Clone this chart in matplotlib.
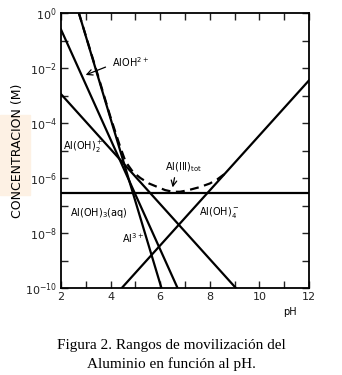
import numpy as np
import matplotlib
matplotlib.use("Agg")
import matplotlib.pyplot as plt
from matplotlib.patches import Rectangle

# endpoints of each species line (pH, log10 C)
al3_ph = [2.72, 6.05]
al3_log = [0.0, -10.0]
aloh_ph = [2.0, 6.7]
aloh_log = [-0.6, -10.0]
aloh2_ph = [2.0, 9.05]
aloh2_log = [-2.95, -10.0]
aloh3_ph = [2.0, 12.0]
aloh3_log = [-6.55, -6.55]
aloh4_ph = [4.45, 12.0]
aloh4_log = [-10.0, -2.45]

# total Al(III), dashed curve
tot_ph = [2.72, 3.5, 4.0, 4.38, 4.6, 4.9, 5.2, 5.55, 5.9, 6.2, 6.5, 6.8, 7.1,
          7.6, 8.0, 8.3, 8.6]
tot_log = [0.0, -2.3, -3.8, -4.85, -5.4, -5.78, -6.0, -6.2, -6.33, -6.44, -6.5,
           -6.5, -6.45, -6.33, -6.2, -6.05, -5.85]

xticks = [2, 3, 4, 5, 6, 7, 8, 9, 10, 11, 12]
xlabels = ['2', '', '4', '', '6', '', '8', '', '10', '', '12']
yexp = list(range(-10, 1))

plt.rcParams['mathtext.fontset'] = 'dejavusans'

fig = plt.figure(figsize=(3.42, 3.75), dpi=100)
fig.patches.append(Rectangle((0, 1 - 195 / 375), 30 / 342, 80 / 375,
                             transform=fig.transFigure, color='#fdf1e4',
                             zorder=0))
ax = fig.add_axes([61 / 342, 1 - 288 / 375, 248 / 342, 275 / 375])

lw = 1.6
ax.plot(al3_ph, 10 ** np.array(al3_log), 'k', lw=lw)
ax.plot(aloh_ph, 10 ** np.array(aloh_log), 'k', lw=lw)
ax.plot(aloh2_ph, 10 ** np.array(aloh2_log), 'k', lw=lw)
ax.plot(aloh3_ph, 10 ** np.array(aloh3_log), 'k', lw=lw)
ax.plot(aloh4_ph, 10 ** np.array(aloh4_log), 'k', lw=lw)
ax.plot(tot_ph, 10 ** np.array(tot_log), 'k', lw=1.6, dashes=(4, 2.5))

ax.set_yscale('log')
ax.set_xlim(2, 12)
ax.set_ylim(1e-10, 1)
ax.set_xticks(xticks)
ax.set_xticklabels(xlabels)
ax.set_yticks([10.0 ** e for e in yexp])
ax.set_yticklabels([r'$10^{%d}$' % e if e % 2 == 0 else '' for e in yexp])
ax.minorticks_off()
ax.tick_params(direction='in', top=True, right=True, length=5, width=1,
               labelsize=8, colors='#222222', pad=3)
for s in ax.spines.values():
    s.set_linewidth(1.3)

fs = 7
ax.text(4.06, 10 ** -1.78, r'AlOH$^{2+}$', fontsize=fs, va='center')
ax.annotate('', xy=(2.89, 10 ** -2.29), xytext=(3.9, 10 ** -1.93),
            arrowprops=dict(arrowstyle='->', lw=0.9, color='k'))
ax.text(2.08, 10 ** -4.87, r'Al(OH)$_2^+$', fontsize=fs, va='center')
ax.text(6.2, 10 ** -5.6, r'Al(III)$_{\rm tot}$', fontsize=fs, va='center')
ax.annotate('', xy=(6.48, 10 ** -6.44), xytext=(6.6, 10 ** -5.89),
            arrowprops=dict(arrowstyle='->', lw=0.9, color='k'))
ax.text(2.36, 10 ** -7.27, r'Al(OH)$_3$(aq)', fontsize=fs, va='center')
ax.text(4.46, 10 ** -8.18, r'Al$^{3+}$', fontsize=fs, va='center')
ax.text(7.56, 10 ** -7.27, r'Al(OH)$_4^-$', fontsize=fs, va='center')

fig.text(290 / 342, 1 - 312 / 375, 'pH', fontsize=7, ha='center', va='center')
fig.text(18 / 342, 1 - 151 / 375, 'CONCENTRACION (M)', fontsize=9,
         rotation=90, ha='center', va='center')

fig.text(0.5, 1 - 345 / 375, 'Figura 2. Rangos de movilización del',
         family='Liberation Serif', fontsize=11, ha='center', va='center')
fig.text(0.5, 1 - 364 / 375, 'Aluminio en función al pH.',
         family='Liberation Serif', fontsize=11, ha='center', va='center')

fig.savefig('out.png', dpi=100)
